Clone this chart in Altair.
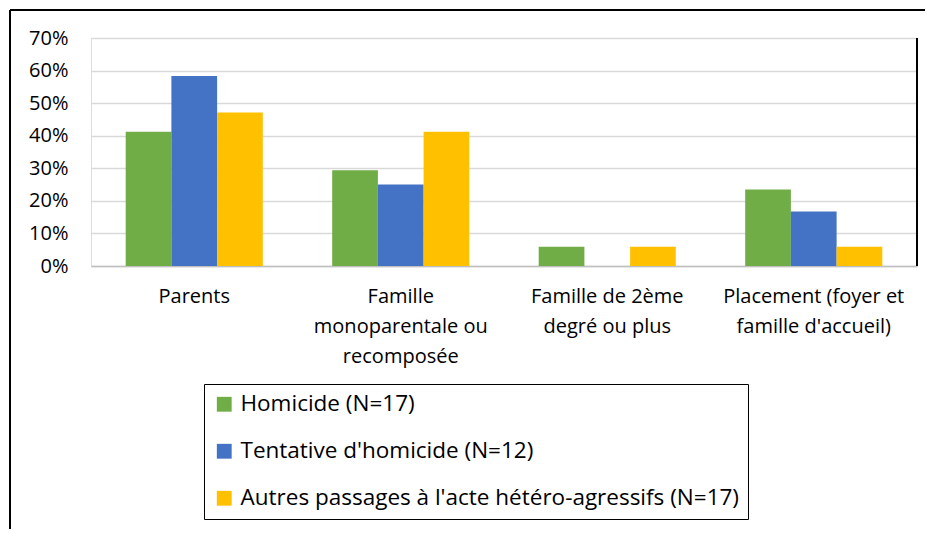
import altair as alt
import pandas as pd

categories = [
    "Parents",
    "Famille\nmonoparentale ou\nrecomposée",
    "Famille de 2ème\ndegré ou plus",
    "Placement (foyer et\nfamille d'accueil)",
]
series = [
    "Homicide (N=17)",
    "Tentative d'homicide (N=12)",
    "Autres passages à l'acte hétéro-agressifs (N=17)",
]
homicide = [0.412, 0.294, 0.059, 0.235]
tentative = [0.583, 0.250, 0.0, 0.167]
autres = [0.471, 0.412, 0.059, 0.059]
colors = ["#70AD47", "#4472C4", "#FFC000"]
y_ticks = [0, 0.1, 0.2, 0.3, 0.4, 0.5, 0.6, 0.7]

rows = []
for s, vals in zip(series, [homicide, tentative, autres]):
    for c, v in zip(categories, vals):
        rows.append({"cat": c, "serie": s, "val": v})
df = pd.DataFrame(rows)

W, H = 826, 228
FONT = "Open Sans"

bars = alt.Chart(df).mark_bar().encode(
    x=alt.X("cat:N", sort=categories,
            scale=alt.Scale(paddingInner=0.336, paddingOuter=0.168),
            axis=alt.Axis(title=None, labelAngle=0, labelExpr="split(datum.label, '\\n')",
                          labelFontSize=20, labelColor="#000000", labelFont=FONT,
                          labelLineHeight=30, labelPadding=20, labelBaseline="top",
                          ticks=False, domainColor="#bfbfbf", domainWidth=1.5,
                          labelLimit=300, grid=False)),
    xOffset=alt.XOffset("serie:N", sort=series),
    y=alt.Y("val:Q", scale=alt.Scale(domain=[0, 0.7]),
            axis=alt.Axis(title=None, values=y_ticks, format=".0%", labelFontSize=20,
                          labelFont=FONT, labelColor="#000000", labelPadding=23,
                          ticks=False, domain=False, gridColor="#d9d9d9", gridWidth=1.5)),
    color=alt.Color("serie:N", sort=series,
                    scale=alt.Scale(domain=series, range=colors),
                    legend=alt.Legend(orient="none", legendX=113, legendY=346, title=None,
                                      symbolType="square", symbolSize=220, symbolStrokeWidth=0,
                                      labelFontSize=22.5, labelFont=FONT, labelColor="#000000",
                                      labelLimit=0, rowPadding=24, padding=9,
                                      symbolOffset=0, labelOffset=5,
                                      strokeColor="#000000", fillColor="#ffffff")),
)

one = pd.DataFrame({"k": [0]})
right_border = alt.Chart(one).mark_rule(color="#000000", strokeWidth=2).encode(
    x=alt.value(W), y=alt.value(0), y2=alt.value(H))
outer_left = alt.Chart(one).mark_rule(color="#000000", strokeWidth=2).encode(
    x=alt.value(-81), y=alt.value(-28), y2=alt.value(700))
outer_top = alt.Chart(one).mark_rule(color="#000000", strokeWidth=2).encode(
    x=alt.value(-81), x2=alt.value(1000), y=alt.value(-28))

chart = alt.layer(bars, right_border, outer_left, outer_top).properties(
    width=W, height=H,
    autosize=alt.AutoSizeParams(type="none"),
    padding={"left": 83, "top": 30, "right": 8, "bottom": 263},
).configure_view(stroke="#595959", strokeWidth=1.5).configure(background="#ffffff")

chart.save("out.html", embed_options={"renderer": "svg", "actions": False})
